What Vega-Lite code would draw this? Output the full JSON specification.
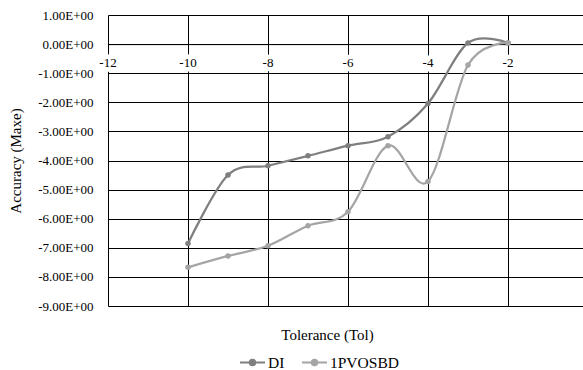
{
  "$schema": "https://vega.github.io/schema/vega-lite/v6.json",
  "width": 475,
  "height": 291,
  "autosize": {"type": "none"},
  "padding": {"left": 108, "top": 15, "right": 0, "bottom": 64},
  "background": "white",
  "config": {
    "view": {"stroke": null},
    "font": "Liberation Serif",
    "text": {"font": "Liberation Serif"},
    "axis": {"labelFont": "Liberation Serif", "titleFont": "Liberation Serif", "labelColor": "black", "titleColor": "black", "titleFontWeight": "normal"},
    "legend": {"labelFont": "Liberation Serif", "labelColor": "black"}
  },
  "datasets": {
    "series": [
      {"x": -10, "y": -6.85, "series": "DI"},
      {"x": -9, "y": -4.5, "series": "DI"},
      {"x": -8, "y": -4.18, "series": "DI"},
      {"x": -7, "y": -3.84, "series": "DI"},
      {"x": -6, "y": -3.49, "series": "DI"},
      {"x": -5, "y": -3.18, "series": "DI"},
      {"x": -4, "y": -2.04, "series": "DI"},
      {"x": -3, "y": 0.04, "series": "DI"},
      {"x": -2, "y": 0.04, "series": "DI"},
      {"x": -10, "y": -7.67, "series": "1PVOSBD"},
      {"x": -9, "y": -7.28, "series": "1PVOSBD"},
      {"x": -8, "y": -6.93, "series": "1PVOSBD"},
      {"x": -7, "y": -6.24, "series": "1PVOSBD"},
      {"x": -6, "y": -5.76, "series": "1PVOSBD"},
      {"x": -5, "y": -3.49, "series": "1PVOSBD"},
      {"x": -4, "y": -4.72, "series": "1PVOSBD"},
      {"x": -3, "y": -0.72, "series": "1PVOSBD"},
      {"x": -2, "y": 0.04, "series": "1PVOSBD"}
    ],
    "ticks": [
      {"x": -12}, {"x": -10}, {"x": -8}, {"x": -6}, {"x": -4}, {"x": -2}
    ]
  },
  "encoding": {
    "x": {
      "field": "x",
      "type": "quantitative",
      "scale": {"domain": [-12, -0.125], "nice": false, "zero": false},
      "axis": {
        "orient": "bottom",
        "offset": -261.9,
        "values": [-12, -10, -8, -6, -4, -2],
        "grid": true,
        "gridColor": "black",
        "gridOpacity": 1,
        "gridWidth": 1,
        "labels": false,
        "ticks": true,
        "tickColor": "black",
        "tickSize": 5,
        "tickWidth": 1,
        "domain": true,
        "domainColor": "black",
        "domainWidth": 1,
        "title": "Tolerance (Tol)",
        "titleFont": "Liberation Serif",
        "titleFontSize": 15,
        "titleX": 219,
        "titleY": 295,
        "titleAlign": "center",
        "titleAnchor": null,
        "titleBaseline": "alphabetic"
      }
    }
  },
  "layer": [
    {
      "data": {"name": "ticks"},
      "mark": {"type": "text", "font": "Liberation Serif", "fill": "white", "stroke": "white", "strokeWidth": 9, "fontSize": 13, "baseline": "middle", "align": "center"},
      "encoding": {
        "y": {
          "datum": -0.65,
          "type": "quantitative",
          "scale": {"domain": [-9, 1], "nice": false, "zero": false},
          "axis": {
            "values": [-9, -8, -7, -6, -5, -4, -3, -2, -1, 0, 1],
            "grid": true, "gridColor": "black", "gridOpacity": 1, "gridWidth": 1,
            "domain": false, "ticks": false, "labelOverlap": false, "labelPadding": 15,
            "labelFont": "Liberation Serif", "labelFontSize": 13,
            "labelExpr": "(datum.value < 0 ? '-' : '') + format(abs(datum.value), '.2f') + 'E+00'",
            "title": "Accuracy (Maxe)", "titleFont": "Liberation Serif", "titleFontSize": 15,
            "titleAngle": 270, "titleX": -93, "titleY": 145.5, "titleAlign": "center", "titleAnchor": null, "titleBaseline": "middle"
          }
        },
        "text": {"field": "x", "type": "nominal"}
      }
    },
    {
      "data": {"name": "ticks"},
      "mark": {"type": "text", "font": "Liberation Serif", "fill": "black", "fontSize": 13, "baseline": "middle", "align": "center"},
      "encoding": {
        "y": {
          "datum": -0.65,
          "type": "quantitative",
          "scale": {"domain": [-9, 1], "nice": false, "zero": false},
          "axis": {
            "values": [-9, -8, -7, -6, -5, -4, -3, -2, -1, 0, 1],
            "grid": true, "gridColor": "black", "gridOpacity": 1, "gridWidth": 1,
            "domain": false, "ticks": false, "labelOverlap": false, "labelPadding": 15,
            "labelFont": "Liberation Serif", "labelFontSize": 13,
            "labelExpr": "(datum.value < 0 ? '-' : '') + format(abs(datum.value), '.2f') + 'E+00'",
            "title": "Accuracy (Maxe)", "titleFont": "Liberation Serif", "titleFontSize": 15,
            "titleAngle": 270, "titleX": -93, "titleY": 145.5, "titleAlign": "center", "titleAnchor": null, "titleBaseline": "middle"
          }
        },
        "text": {"field": "x", "type": "nominal"}
      }
    },
    {
      "data": {"name": "series"},
      "mark": {"type": "line", "interpolate": "cardinal", "strokeWidth": 2.25, "point": {"filled": true, "size": 30}},
      "encoding": {
        "y": {
          "field": "y",
          "type": "quantitative",
          "scale": {"domain": [-9, 1], "nice": false, "zero": false},
          "axis": {
            "values": [-9, -8, -7, -6, -5, -4, -3, -2, -1, 0, 1],
            "grid": true, "gridColor": "black", "gridOpacity": 1, "gridWidth": 1,
            "domain": false, "ticks": false, "labelOverlap": false, "labelPadding": 15,
            "labelFont": "Liberation Serif", "labelFontSize": 13,
            "labelExpr": "(datum.value < 0 ? '-' : '') + format(abs(datum.value), '.2f') + 'E+00'",
            "title": "Accuracy (Maxe)", "titleFont": "Liberation Serif", "titleFontSize": 15,
            "titleAngle": 270, "titleX": -93, "titleY": 145.5, "titleAlign": "center", "titleAnchor": null, "titleBaseline": "middle"
          }
        },
        "color": {
          "field": "series",
          "type": "nominal",
          "sort": ["DI", "1PVOSBD"],
          "scale": {"domain": ["DI", "1PVOSBD"], "range": ["#7f7f7f", "#a5a5a5"]},
          "legend": {
            "orient": "none",
            "legendX": 131,
            "legendY": 334,
            "direction": "horizontal",
            "title": null,
            "labelFont": "Liberation Serif",
            "labelFontSize": 15.5,
            "symbolType": "M-1,0H1M-0.22,0a0.22,0.22 0 1,0 0.44,0a0.22,0.22 0 1,0 -0.44,0",
            "symbolSize": 625,
            "symbolStrokeWidth": 2,
            "labelOffset": 2,
            "columnPadding": 13,
            "encode": {"symbols": {"update": {"fill": {"scale": "color", "field": "value"}, "stroke": {"scale": "color", "field": "value"}}}}
          }
        }
      }
    }
  ]
}
